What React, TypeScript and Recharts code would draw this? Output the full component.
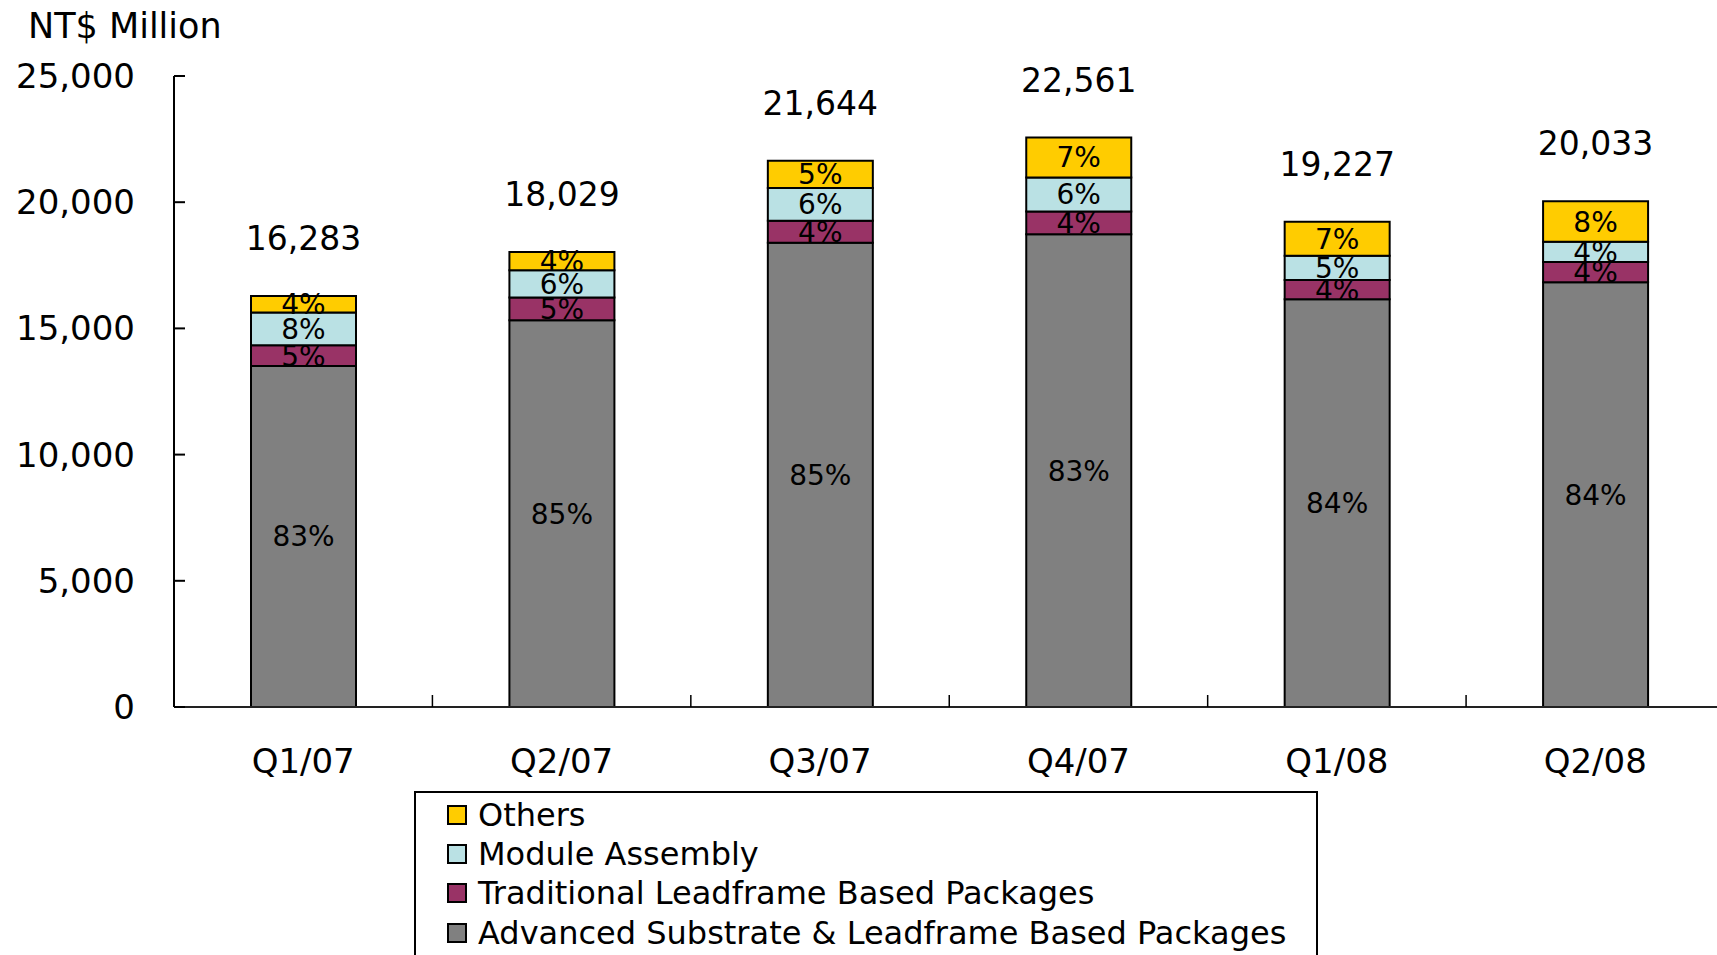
import { BarChart, Bar, XAxis, YAxis, LabelList, Legend } from "recharts";

const QUARTERS = ["Q1/07", "Q2/07", "Q3/07", "Q4/07", "Q1/08", "Q2/08"];
const TOTALS = [16283, 18029, 21644, 22561, 19227, 20033];
const ADVANCED = [13515, 15325, 18397, 18726, 16151, 16828];
const TRADITIONAL = [814, 901, 866, 902, 769, 801];
const MODULE = [1303, 1082, 1299, 1354, 961, 801];
const OTHERS = [651, 721, 1082, 1579, 1346, 1603];
const ADVANCED_PCT = [83, 85, 85, 83, 84, 84];
const TRADITIONAL_PCT = [5, 5, 4, 4, 4, 4];
const MODULE_PCT = [8, 6, 6, 6, 5, 4];
const OTHERS_PCT = [4, 4, 5, 7, 7, 8];
const Y_TICKS = [0, 5000, 10000, 15000, 20000, 25000];

const SERIES = [
  { key: "adv", name: "Advanced Substrate & Leadframe Based Packages", color: "#808080" },
  { key: "trad", name: "Traditional Leadframe Based Packages", color: "#993366" },
  { key: "mod", name: "Module Assembly", color: "#BAE1E4" },
  { key: "oth", name: "Others", color: "#FFCC00" },
];

const FONT = "'DejaVu Sans', Verdana, sans-serif";

const WIDTH = 1740;
const HEIGHT = 955;
const Y_AXIS_W = 1;
const MARGIN = { top: 76, right: 15.5, left: 174 - Y_AXIS_W, bottom: 188 };
const BAND = (WIDTH - 174 - MARGIN.right) / QUARTERS.length;

const data = QUARTERS.map((q, i) => ({
  quarter: q,
  total: TOTALS[i],
  adv: ADVANCED[i],
  trad: TRADITIONAL[i],
  mod: MODULE[i],
  oth: OTHERS[i],
  advPct: ADVANCED_PCT[i],
  tradPct: TRADITIONAL_PCT[i],
  modPct: MODULE_PCT[i],
  othPct: OTHERS_PCT[i],
}));

function YTick({ x, y, payload }: any) {
  return (
    <g>
      <line x1={x} x2={x + 11} y1={y} y2={y} stroke="#000" strokeWidth={2} />
      <text x={x - 39} y={y + 12} textAnchor="end" fontSize={34} fontFamily={FONT} fill="#000">
        {Number(payload.value).toLocaleString("en-US")}
      </text>
    </g>
  );
}

function XTick({ x, y, payload, index }: any) {
  return (
    <g>
      {index < QUARTERS.length - 1 && (
        <line x1={x + BAND / 2} x2={x + BAND / 2} y1={y} y2={y - 12} stroke="#000" strokeWidth={1.5} />
      )}
      <text x={x} y={y + 66} textAnchor="middle" fontSize={34} fontFamily={FONT} fill="#000">
        {payload.value}
      </text>
    </g>
  );
}

function LegendBox() {
  const items = [...SERIES].reverse();
  return (
    <div
      style={{
        border: "2px solid #000",
        width: 904,
        height: 180,
        boxSizing: "border-box",
        paddingLeft: 31,
        paddingTop: 2,
        background: "#fff",
        fontFamily: FONT,
      }}
    >
      {items.map((it) => (
        <div key={it.key} style={{ display: "flex", alignItems: "center", height: 39.3 }}>
          <span
            style={{
              width: 20,
              height: 20,
              boxSizing: "border-box",
              border: "2px solid #000",
              background: it.color,
              marginRight: 11,
              flexShrink: 0,
            }}
          />
          <span style={{ fontSize: 32, color: "#000", whiteSpace: "nowrap" }}>{it.name}</span>
        </div>
      ))}
    </div>
  );
}

const pctLabel = (v: any) => `${v}%`;

export default function App() {
  return (
    <div
      style={{
        position: "absolute",
        left: 0,
        top: 0,
        width: 1717,
        height: 955,
        overflow: "hidden",
        background: "#fff",
      }}
    >
      <div
        style={{
          position: "absolute",
          left: 28,
          top: 9,
          fontFamily: FONT,
          fontSize: 35,
          lineHeight: "35px",
          color: "#000",
          whiteSpace: "nowrap",
        }}
      >
        NT$ Million
      </div>
      <BarChart width={WIDTH} height={HEIGHT} data={data} margin={MARGIN}>
        <XAxis
          dataKey="quarter"
          height={60}
          tickSize={0}
          tickMargin={0}
          tickLine={false}
          axisLine={{ stroke: "#222", strokeWidth: 2 }}
          tick={<XTick />}
          interval={0}
        />
        <YAxis
          width={Y_AXIS_W}
          domain={[0, 25000]}
          ticks={Y_TICKS}
          interval={0}
          tickSize={0}
          tickMargin={0}
          tickLine={false}
          axisLine={{ stroke: "#000", strokeWidth: 2 }}
          tick={<YTick />}
        />
        <Legend
          layout="vertical"
          align="center"
          verticalAlign="middle"
          width={904}
          wrapperStyle={{ position: "absolute", left: 414, top: 791, width: 904 }}
          content={<LegendBox />}
        />
        {SERIES.map((s) => (
          <Bar
            key={s.key}
            dataKey={s.key}
            name={s.name}
            stackId="a"
            fill={s.color}
            stroke="#000"
            strokeWidth={2}
            barSize={105}
            isAnimationActive={false}
          >
            <LabelList
              dataKey={`${s.key}Pct`}
              position="center"
              formatter={pctLabel}
              fill="#000"
              stroke="none"
              fontSize={28}
              fontFamily={FONT}
            />
            {s.key === "oth" && (
              <LabelList
                dataKey="total"
                position="top"
                offset={46}
                formatter={(v: any) => Number(v).toLocaleString("en-US")}
                fill="#000"
                stroke="none"
                fontSize={33}
                fontFamily={FONT}
              />
            )}
          </Bar>
        ))}
      </BarChart>
    </div>
  );
}
